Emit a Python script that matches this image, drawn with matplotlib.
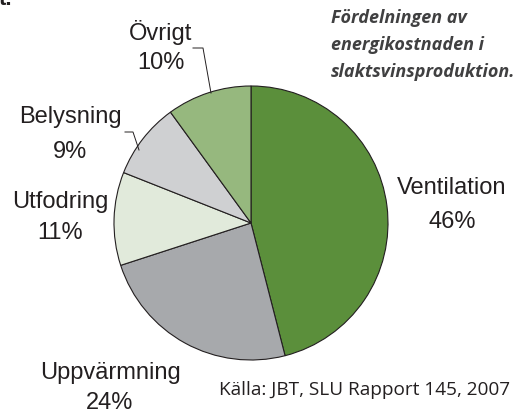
import matplotlib
matplotlib.use("Agg")
import matplotlib.pyplot as plt

# Energy cost split, slaughter pig production
labels = ["Ventilation", "Uppvärmning", "Utfodring", "Belysning", "Övrigt"]
shares = [46, 24, 11, 9, 10]
colors = ["#5b8f3b", "#a7a9ac", "#e1eadb", "#cfd0d2", "#96b87e"]

title_lines = ["Fördelningen av", "energikostnaden i", "slaktsvinsproduktion."]
source = "Källa: JBT, SLU Rapport 145, 2007"

plt.rcParams['font.family'] = ['Liberation Sans', 'DejaVu Sans']

fig = plt.figure(figsize=(5.16, 4.12), dpi=100)
ax = fig.add_axes([0, 0, 1, 1])

ax.pie(shares, colors=colors, startangle=90, counterclock=False,
       center=(251, 189), radius=137,
       wedgeprops=dict(edgecolor="#231f20", linewidth=0.8))
ax.set_xlim(0, 516)
ax.set_ylim(0, 412)
ax.set_aspect("equal")
ax.axis("off")

# label positions (pixel coords, y up), percent line below
label_pos = {
    "Ventilation": (452, 224, 34),
    "Uppvärmning": (110, 39, 30),
    "Utfodring": (60, 210, 31),
    "Belysning": (70, 295, 35),
    "Övrigt": (161, 380, 31),
}
for name, val in zip(labels, shares):
    x, y, gap = label_pos[name]
    ax.text(x, y, name, ha="center", va="center", fontsize=17, color="#231f20")
    ax.text(x, y - gap, f"{val}%", ha="center", va="center", fontsize=17, color="#231f20")

# leader lines
ax.plot([125, 133, 139], [280, 280, 262], color="#231f20", lw=0.7)
ax.plot([193, 203, 211], [364, 364, 319], color="#231f20", lw=0.7)

for i, line in enumerate(title_lines):
    ax.text(331, 394 - i * 27, line, ha="left", va="center", fontsize=13,
            fontstyle="italic", fontweight="bold", color="#404041",
            family=["Open Sans", "DejaVu Sans"])

ax.text(510, 22, source, ha="right", va="center", fontsize=13.7,
        color="#231f20", family=["Open Sans", "DejaVu Sans"])

ax.text(-1, 407, "t.", ha="left", va="baseline", fontsize=16, fontweight="bold",
        color="#231f20")

fig.savefig("out.png", dpi=100)
